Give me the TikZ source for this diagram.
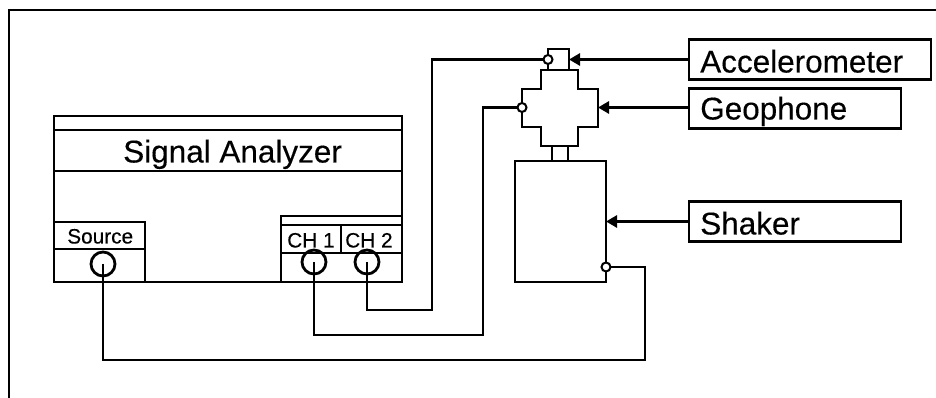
\documentclass[tikz,border=0pt]{standalone}
\usepackage{fontspec}
\setmainfont{Liberation Sans}[BoldFont={Liberation Sans},BoldFeatures={FakeBold=0.3}]
\usetikzlibrary{arrows.meta}
\def\u{0.75pt}
\tikzset{
  line/.style={draw=black,line width=2.8*\u,line cap=rect,line join=miter},
  boxn/.style={line,rectangle,inner sep=0pt,outer sep=0pt},
  wire/.style={draw=black,line width=2.8*\u,line join=miter},
  ptr/.style={draw=black,line width=3.5*\u,-{Triangle[length=11*\u,width=12*\u]}},
  bigport/.style={circle,draw=black,line width=2.8*\u,minimum size=24*\u,inner sep=0pt,outer sep=0pt},
  smallport/.style={circle,draw=black,fill=white,line width=2*\u,minimum size=9*\u,inner sep=0pt,outer sep=0pt},
  big/.style={font=\fontsize{23.6pt}{26pt}\selectfont\bfseries,inner sep=0pt,anchor=base west,text=black},
  small/.style={font=\fontsize{15.6pt}{18pt}\selectfont\bfseries,inner sep=0pt,anchor=base west,text=black},
}
\begin{document}
\begin{tikzpicture}[x=0.75pt,y=-0.75pt]
\useasboundingbox (0,0) rectangle (936,398);
\fill[white] (0,0) rectangle (936,398);
% frame
\coordinate (fbl) at (9,398);
\coordinate (ftl) at (9,10);
\coordinate (ftr) at (936,10);
\draw[line,line cap=butt] (fbl) -- (ftl) -- (ftr);
% analyzer
\node[boxn,minimum width=348*\u,minimum height=166*\u] (sa) at (228,199) {};
\node[boxn,minimum width=348*\u,minimum height=41*\u] (satitle) at (228,150.5) {};
\node[boxn,minimum width=91*\u,minimum height=60*\u] (srcpanel) at (99.5,252) {};
\node[boxn,minimum width=91*\u,minimum height=27*\u] (srcbox) at (99.5,235.5) {};
\node[boxn,minimum width=121*\u,minimum height=66*\u] (chpanel) at (341.5,249) {};
\node[boxn,minimum width=60*\u,minimum height=28*\u] (ch1box) at (311,239) {};
\node[boxn,minimum width=61*\u,minimum height=28*\u] (ch2box) at (371.5,239) {};
% sensors and shaker
\node[boxn,minimum width=21*\u,minimum height=21*\u] (acc) at (558.5,59.5) {};
\node[boxn,minimum width=16*\u,minimum height=15*\u] (stem) at (560,153.5) {};
\node[boxn,minimum width=91*\u,minimum height=121*\u] (shaker) at (560.5,221.5) {};
\draw[line,line cap=butt] (541,70) -- (578,70) -- (578,89) -- (598,89) -- (598,127) -- (578,127)
  -- (578,146) -- (541,146) -- (541,127) -- (522,127) -- (522,89) -- (541,89) -- cycle;
\coordinate (geoR) at (598,107.5);
% label boxes
\node[boxn,minimum width=242*\u,minimum height=40*\u] (acclabel) at (810,59.5) {};
\node[boxn,minimum width=212*\u,minimum height=40*\u] (geolabel) at (795,108.5) {};
\node[boxn,minimum width=212*\u,minimum height=40*\u] (shklabel) at (795,221.5) {};
% ports
\node[bigport] (srcport) at (103,264) {};
\node[bigport] (ch1port) at (314,262) {};
\node[bigport] (ch2port) at (367,262) {};
\coordinate (srcbend) at (645,360);
\coordinate (ch1bend) at (483,335);
\coordinate (ch2bend) at (432,310);
\coordinate (accpt) at (548,59.5);
\coordinate (geopt) at (522,107.5);
\coordinate (shkpt) at (606,267);
% wires
\draw[wire] (srcport.center) |- (srcbend) |- (shkpt);
\draw[wire] (ch1port.center) |- (ch1bend) |- (geopt);
\draw[wire] (ch2port.center) |- (ch2bend) |- (accpt);
\node[smallport] (accport) at (accpt) {};
\node[smallport] (geoport) at (geopt) {};
\node[smallport] (shkport) at (shkpt) {};
% pointers
\draw[ptr] (acclabel.west) -- (acc.east);
\draw[ptr] (geolabel.west |- geoR) -- (geoR);
\draw[ptr] (shklabel.west) -- (shaker.east);
% texts
\node[big] (tsa) at (123,162.5) {Signal Analyzer};
\node[small] (tsrc) at (67,243.5) {Source};
\node[small] (tch1) at (287,247.5) {CH 1};
\node[small] (tch2) at (345,247.5) {CH 2};
\node[big] (tacc) at (700,72.5) {Accelerometer};
\node[big] (tgeo) at (700,119.5) {Geophone};
\node[big] (tshk) at (700,234.5) {Shaker};
\end{tikzpicture}
\end{document}
